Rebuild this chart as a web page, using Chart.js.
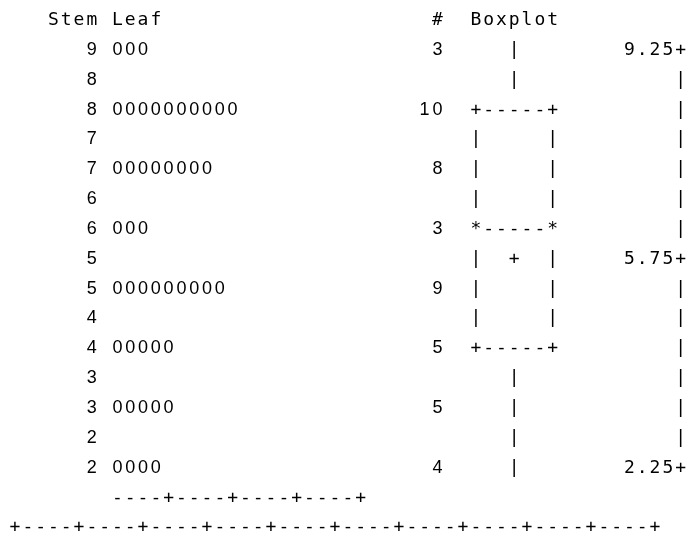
<!DOCTYPE html>
<html>
<head>
<meta charset="utf-8">
<script src="https://cdn.jsdelivr.net/npm/chart.js@4/dist/chart.umd.min.js"></script>
<style>
  html, body { margin: 0; padding: 0; background: #fff; }
  #wrap { width: 689px; height: 533px; }
</style>
</head>
<body>
<div id="wrap"><canvas id="chart"></canvas></div>
<script>
// stem-and-leaf rows, top to bottom
const stems = [9, 8, 8, 7, 7, 6, 6, 5, 5, 4, 4, 3, 3, 2, 2];
const leafCounts = [3, 0, 10, 0, 8, 0, 3, 0, 9, 0, 5, 0, 5, 0, 4];
const boxRows = [
  '   |', '   |', '+-----+', '|     |', '|     |', '|     |', '*-----*',
  '|  +  |', '|     |', '|     |', '+-----+', '   |', '   |', '   |', '   |'
];
const scaleLabels = ['9.25', '5.75', '2.25'];
const scaleLabelRows = [0, 7, 14];
const leafAxis = '----+----+----+----+';
const bottomAxis = '+----+----+----+----+----+----+----+----+----+----+';

// column layout (character grid)
const COL_STEM = 6, COL_LEAF = 8, COL_COUNT = 33, COL_BOX = 36, COL_SCALE = 52;

function textPoints(str, col, row) {
  const pts = [];
  for (let i = 0; i < str.length; i++) {
    if (str[i] !== ' ') pts.push({ x: col + i, y: row, ch: str[i] });
  }
  return pts;
}

const sansPts = [];
const monoPts = [];

stems.forEach((s, i) => {
  sansPts.push(...textPoints(String(s), COL_STEM, i));
  sansPts.push(...textPoints('0'.repeat(leafCounts[i]), COL_LEAF, i));
  if (leafCounts[i] > 0) {
    const c = String(leafCounts[i]);
    sansPts.push(...textPoints(c, COL_COUNT - c.length + 1, i));
  }
  monoPts.push(...textPoints(boxRows[i], COL_BOX, i));
  const k = scaleLabelRows.indexOf(i);
  if (k >= 0) {
    const lab = scaleLabels[k] + '+';
    monoPts.push(...textPoints(lab, COL_SCALE - lab.length + 1, i));
  } else {
    monoPts.push({ x: COL_SCALE, y: i, ch: '|' });
  }
});

monoPts.push(...textPoints('Stem Leaf', 3, -1));
monoPts.push(...textPoints('#', COL_COUNT, -1));
monoPts.push(...textPoints('Boxplot', COL_BOX, -1));
monoPts.push(...textPoints(leafAxis, COL_LEAF, 15));
monoPts.push(...textPoints(bottomAxis, 0, 16));

const glyphPlugin = {
  id: 'glyphs',
  afterDatasetsDraw(chart) {
    const { ctx, scales } = chart;
    ctx.save();
    ctx.fillStyle = '#000';
    ctx.textAlign = 'center';
    ctx.textBaseline = 'alphabetic';
    chart.data.datasets.forEach((ds) => {
      ctx.font = ds.glyphFont;
      ds.data.forEach((p) => {
        const px = scales.x.getPixelForValue(p.x);
        const py = scales.y.getPixelForValue(p.y);
        ctx.fillText(p.ch, px, py + 6.5);
      });
    });
    ctx.restore();
  }
};

new Chart(document.getElementById('chart').getContext('2d'), {
  type: 'scatter',
  data: {
    datasets: [
      { data: sansPts, pointRadius: 0, glyphFont: '18px "Liberation Sans", Arial, sans-serif' },
      { data: monoPts, pointRadius: 0, glyphFont: '18px "DejaVu Sans Mono", monospace' }
    ]
  },
  options: {
    responsive: true,
    maintainAspectRatio: false,
    animation: false,
    layout: { padding: 0 },
    scales: {
      x: { type: 'linear', display: false, min: -15 / 12.8, max: (689 - 15) / 12.8 },
      y: { type: 'linear', display: false, reverse: true, min: -48.3 / 29.85, max: (533 - 48.3) / 29.85 }
    },
    plugins: { legend: { display: false }, tooltip: { enabled: false } }
  },
  plugins: [glyphPlugin]
});
</script>
</body>
</html>
